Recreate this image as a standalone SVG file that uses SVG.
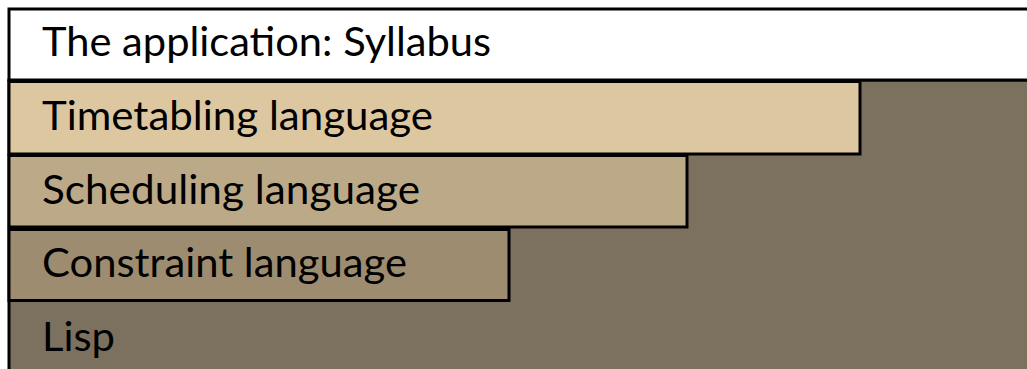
<svg xmlns="http://www.w3.org/2000/svg" width="1027" height="369" viewBox="0 0 1027 369">
  <style>
    .layer { stroke: #000; stroke-width: 3; }
    .label { font-family: Lato, "Open Sans", sans-serif; font-size: 40px; fill: #000; }
  </style>
  <rect width="1027" height="369" fill="#ffffff"/>
  <!-- base layer: Lisp -->
  <g id="lisp">
    <rect class="layer" x="9" y="80" width="1030" height="300" fill="#7c705e"/>
    <text class="label" x="42" y="351" textLength="73" lengthAdjust="spacingAndGlyphs">Lisp</text>
  </g>
  <g id="application">
    <rect class="layer" x="9" y="9" width="1030" height="71" fill="#ffffff"/>
    <text class="label" x="42" y="56" textLength="449" lengthAdjust="spacingAndGlyphs">The application: Syllabus</text>
  </g>
  <g id="timetabling">
    <rect class="layer" x="9" y="81.5" width="851" height="72.5" fill="#ddc7a1"/>
    <text class="label" x="42" y="130" textLength="391" lengthAdjust="spacingAndGlyphs">Timetabling language</text>
  </g>
  <g id="scheduling">
    <rect class="layer" x="9" y="155.5" width="678" height="71.5" fill="#bca988"/>
    <text class="label" x="42" y="203.5" textLength="378" lengthAdjust="spacingAndGlyphs">Scheduling language</text>
  </g>
  <g id="constraint">
    <rect class="layer" x="9" y="229.5" width="500" height="71" fill="#9d8c6f"/>
    <text class="label" x="42" y="276.5" textLength="365" lengthAdjust="spacingAndGlyphs">Constraint language</text>
  </g>
</svg>
